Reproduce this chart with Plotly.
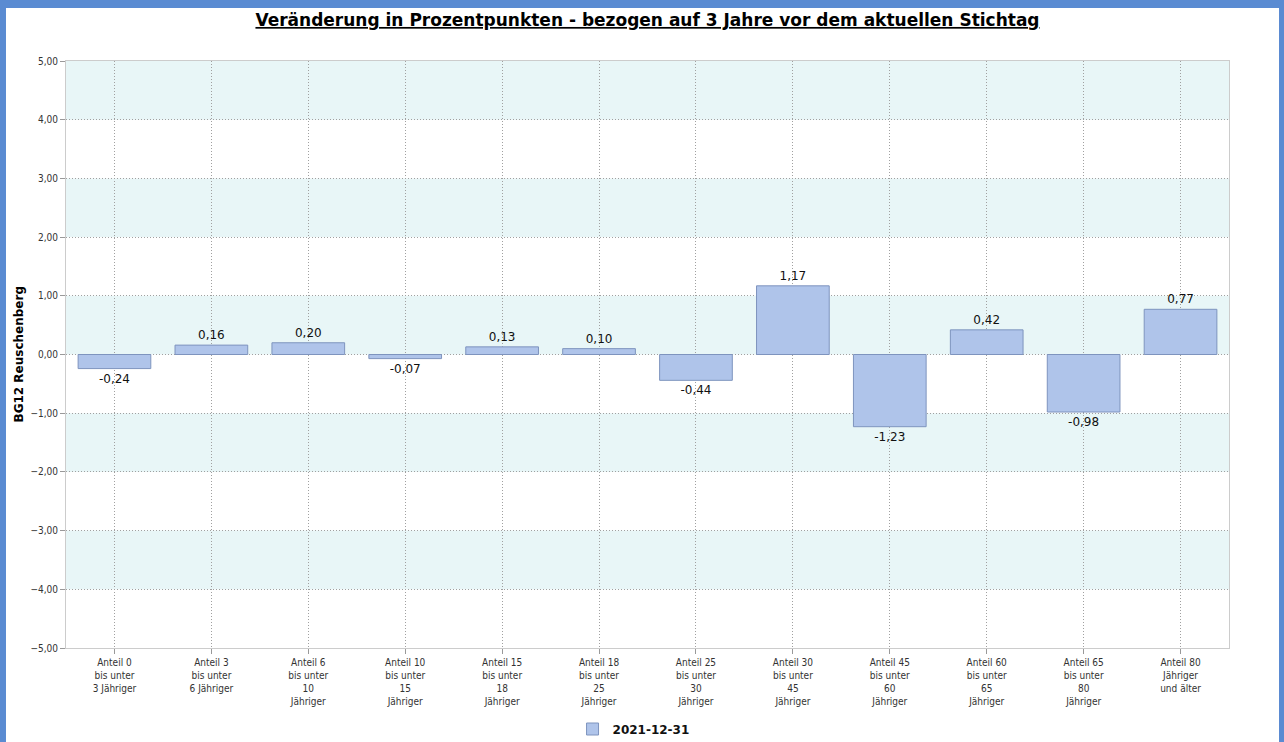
import plotly.graph_objects as go

categories = [
    "Anteil 0<br>bis unter<br>3 Jähriger",
    "Anteil 3<br>bis unter<br>6 Jähriger",
    "Anteil 6<br>bis unter<br>10<br>Jähriger",
    "Anteil 10<br>bis unter<br>15<br>Jähriger",
    "Anteil 15<br>bis unter<br>18<br>Jähriger",
    "Anteil 18<br>bis unter<br>25<br>Jähriger",
    "Anteil 25<br>bis unter<br>30<br>Jähriger",
    "Anteil 30<br>bis unter<br>45<br>Jähriger",
    "Anteil 45<br>bis unter<br>60<br>Jähriger",
    "Anteil 60<br>bis unter<br>65<br>Jähriger",
    "Anteil 65<br>bis unter<br>80<br>Jähriger",
    "Anteil 80<br>Jähriger<br>und älter",
]
values = [-0.24, 0.16, 0.20, -0.07, 0.13, 0.10, -0.44, 1.17, -1.23, 0.42, -0.98, 0.77]
series_name = "2021-12-31"
y_title = "BG12 Reuschenberg"
y_ticks = [-5, -4, -3, -2, -1, 0, 1, 2, 3, 4, 5]
bands = [(4, 5), (2, 3), (0, 1), (-2, -1), (-4, -3)]

FONT = "DejaVu Sans Condensed, DejaVu Sans"

fig = go.Figure()
fig.add_trace(go.Bar(
    x=categories, y=values, name="<b>" + series_name + "</b>",
    marker=dict(color="#AFC4EA", line=dict(color="#7E94BE", width=1)),
    width=0.75,
    texttemplate="%{y:.2f}", textposition="outside",
    textfont=dict(family="DejaVu Sans", size=12, color="#111111"),
    cliponaxis=False,
    showlegend=True,
))

shapes = [
    dict(type="rect", xref="paper", yref="paper", x0=-0.0516, x1=1.043, y0=-0.2, y1=1.0903,
         fillcolor="white", line=dict(width=0), layer="below"),
]
for lo, hi in bands:
    shapes.append(dict(type="rect", xref="paper", yref="y", x0=0, x1=1, y0=lo, y1=hi,
                       fillcolor="#E8F6F7", line=dict(width=0), layer="below"))

fig.update_layout(
    width=1284, height=742,
    margin=dict(l=66, r=55, t=61, b=94),
    paper_bgcolor="#5A8BD2",
    plot_bgcolor="white",
    separators=",.",
    shapes=shapes,
    title=dict(
        text="<b><u>Veränderung in Prozentpunkten - bezogen auf 3 Jahre vor dem aktuellen Stichtag</u></b>",
        x=0.5, xref="paper", xanchor="center", y=0.973, yanchor="middle",
        font=dict(family="DejaVu Sans", size=17, color="black"),
    ),
    font=dict(family=FONT, size=10, color="#333333"),
    legend=dict(orientation="h", x=0.488, xanchor="center",
                yref="container", y=13 / 742, yanchor="middle",
                font=dict(family="DejaVu Sans", size=12, color="#111111"),
                bgcolor="rgba(0,0,0,0)"),
    annotations=[dict(
        text="<b>" + y_title + "</b>", textangle=-90,
        xref="paper", yref="paper", x=(18 - 66) / 1163, y=0.5,
        xanchor="center", yanchor="middle", showarrow=False,
        font=dict(family="DejaVu Sans", size=12, color="black"),
    )],
)

fig.update_yaxes(
    range=[-5, 5], tickvals=y_ticks, tickformat=".2f",
    showgrid=True, gridcolor="#A0A0A0", griddash="1px,2px", gridwidth=1,
    zeroline=False,
    showline=True, linecolor="#CCCCCC", mirror=True,
    ticks="outside", ticklen=5, tickcolor="#999999",
    tickfont=dict(family=FONT, size=10, color="#333333"),
    automargin=False,
)
fig.update_xaxes(
    showgrid=True, gridcolor="#A0A0A0", griddash="1px,2px", gridwidth=1,
    showline=True, linecolor="#CCCCCC", mirror=True,
    ticks="outside", ticklen=5, tickcolor="#999999",
    tickfont=dict(family=FONT, size=10, color="#333333"),
    tickangle=0, automargin=False,
)

fig.write_html("out.html", config={"displayModeBar": False},
               post_script="document.body.style.margin='0';document.body.style.padding='0';")
